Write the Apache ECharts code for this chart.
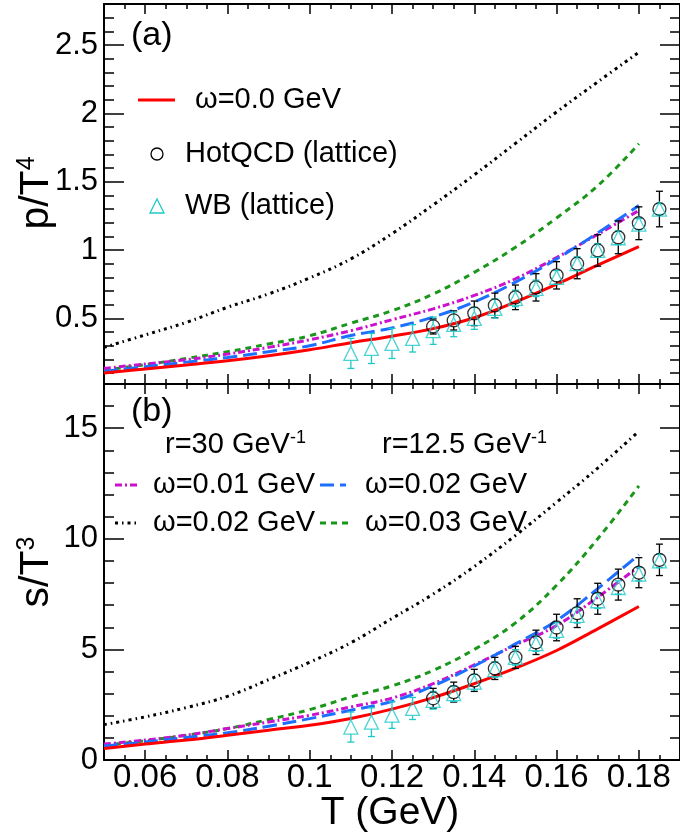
<!DOCTYPE html>
<html>
<head>
<meta charset="utf-8">
<script src="https://cdn.jsdelivr.net/npm/echarts@6/dist/echarts.min.js"></script>
<style>
  html, body { margin: 0; padding: 0; background: #fff; }
  #chart { width: 680px; height: 838px; }
</style>
</head>
<body>
<div id="chart"></div>
<script>
var FONT = 'Liberation Sans';

// temperature grid of the model curves (GeV)
var tCurve = [0.05, 0.06, 0.07, 0.08, 0.09, 0.10, 0.11, 0.12, 0.13, 0.14, 0.15, 0.16, 0.17, 0.18];

// (a) p/T^4
var pRed     = [0.100, 0.130, 0.159, 0.190, 0.227, 0.271, 0.322, 0.370, 0.425, 0.505, 0.620, 0.750, 0.890, 1.025];
var pMagenta = [0.134, 0.166, 0.198, 0.239, 0.288, 0.344, 0.410, 0.490, 0.570, 0.668, 0.790, 0.945, 1.115, 1.289];
var pBlue    = [0.112, 0.146, 0.180, 0.214, 0.256, 0.300, 0.375, 0.430, 0.510, 0.620, 0.765, 0.935, 1.125, 1.325];
var pBlack   = [0.288, 0.379, 0.471, 0.581, 0.679, 0.796, 0.935, 1.120, 1.330, 1.550, 1.780, 2.010, 2.230, 2.447];
var pGreen   = [0.122, 0.161, 0.207, 0.256, 0.313, 0.373, 0.465, 0.556, 0.678, 0.837, 1.020, 1.235, 1.470, 1.777];

// (b) s/T^3
var sRed     = [0.52, 0.72, 0.90, 1.12, 1.35, 1.57, 1.88, 2.30, 2.82, 3.45, 4.15, 4.95, 5.93, 6.94];
var sMagenta = [0.72, 0.90, 1.12, 1.42, 1.72, 2.02, 2.40, 2.80, 3.45, 4.30, 5.20, 6.08, 7.36, 8.75];
var sBlue    = [0.63, 0.81, 1.02, 1.23, 1.53, 1.87, 2.25, 2.65, 3.35, 4.25, 5.25, 6.30, 7.75, 9.28];
var sBlack   = [1.60, 1.95, 2.37, 2.88, 3.63, 4.42, 5.30, 6.40, 7.50, 8.75, 10.15, 11.65, 13.20, 14.86];
var sGreen   = [0.67, 0.87, 1.12, 1.42, 1.83, 2.28, 2.85, 3.35, 4.05, 5.00, 6.20, 7.90, 10.00, 12.39];

// lattice points
var tHot = [0.13, 0.135, 0.14, 0.145, 0.15, 0.155, 0.16, 0.165, 0.17, 0.175, 0.18, 0.185];
var pHot    = [0.441, 0.485, 0.537, 0.595, 0.654, 0.727, 0.815, 0.900, 0.997, 1.093, 1.196, 1.300];
var pHotErr = [0.055, 0.070, 0.090, 0.090, 0.090, 0.100, 0.100, 0.110, 0.115, 0.120, 0.120, 0.130];
var sHot    = [2.79, 3.07, 3.60, 4.14, 4.64, 5.32, 5.99, 6.64, 7.29, 7.93, 8.47, 9.05];
var sHotErr = [0.45, 0.45, 0.50, 0.50, 0.50, 0.55, 0.60, 0.65, 0.70, 0.70, 0.68, 0.71];

var tWB = [0.11, 0.115, 0.12, 0.125, 0.13, 0.135, 0.14, 0.145, 0.15, 0.155, 0.16, 0.165, 0.17, 0.175, 0.18, 0.185];
var pWB    = [0.244, 0.280, 0.317, 0.354, 0.410, 0.456, 0.500, 0.573, 0.646, 0.720, 0.800, 0.900, 0.997, 1.090, 1.190, 1.300];
var pWBErr = [0.11, 0.11, 0.11, 0.10, 0.10, 0.09, 0.08, 0.07, 0.06, 0.06, 0.05, 0.05, 0.05, 0.05, 0.04, 0.04];
var sWB    = [1.49, 1.71, 2.03, 2.33, 2.70, 3.00, 3.52, 4.09, 4.64, 5.26, 5.86, 6.54, 7.20, 7.80, 8.40, 9.00];
var sWBErr = [0.68, 0.65, 0.60, 0.50, 0.40, 0.35, 0.35, 0.35, 0.35, 0.35, 0.35, 0.35, 0.35, 0.30, 0.30, 0.30];

// tick labels
var xMajor = [0.06, 0.08, 0.1, 0.12, 0.14, 0.16, 0.18];
var pMajor = [0.5, 1, 1.5, 2, 2.5];
var sMajor = [0, 5, 10, 15];

function minorTicks(step, from, to, every) {
    var out = [];
    for (var k = from; k <= to; k++) {
        if (k % every !== 0) out.push(+(k * step).toFixed(4));
    }
    return out;
}
var xMinor = minorTicks(0.005, 10, 38, 4);
var pMinor = minorTicks(0.1, 1, 27, 5);
var sMinor = minorTicks(1, 1, 16, 5);

var RED = '#ff0000', MAGENTA = '#cc11cc', BLUE = '#1f6fff', GREEN = '#1a961a', BLACK = '#000000', CYAN = '#1fc8c8';
var LEG = 29;

var lineCol = { color: '#000', width: 1.5 };

function makeX(grid, labels) {
    var axes = [];
    ['bottom', 'top'].forEach(function (pos) {
        axes.push({
            type: 'value', gridIndex: grid, position: pos, min: 0.05, max: 0.19,
            splitLine: { show: false },
            axisLine: { show: true, onZero: false, lineStyle: { color: '#000', width: 2 } },
            axisTick: { show: true, inside: true, length: 10, customValues: xMajor, lineStyle: lineCol },
            axisLabel: (labels && pos === 'bottom') ? {
                show: true, customValues: xMajor, margin: 1, fontSize: 33, fontFamily: FONT, color: '#000'
            } : { show: false }
        });
        axes.push({
            type: 'value', gridIndex: grid, position: pos, min: 0.05, max: 0.19,
            splitLine: { show: false },
            axisLine: { show: false, onZero: false },
            axisTick: { show: true, inside: true, length: 5, customValues: xMinor, lineStyle: lineCol },
            axisLabel: { show: false }
        });
    });
    return axes;
}

function makeY(grid, min, max, major, minor) {
    var axes = [];
    ['left', 'right'].forEach(function (pos) {
        axes.push({
            type: 'value', gridIndex: grid, position: pos, min: min, max: max,
            splitLine: { show: false },
            axisLine: { show: true, onZero: false, lineStyle: { color: '#000', width: 2 } },
            axisTick: { show: true, inside: true, length: 20, customValues: major, lineStyle: lineCol },
            axisLabel: pos === 'left' ? {
                show: true, customValues: major, margin: 6, fontSize: 31, fontFamily: FONT, color: '#000'
            } : { show: false }
        });
        axes.push({
            type: 'value', gridIndex: grid, position: pos, min: min, max: max,
            splitLine: { show: false },
            axisLine: { show: false, onZero: false },
            axisTick: { show: true, inside: true, length: 10, customValues: minor, lineStyle: lineCol },
            axisLabel: { show: false }
        });
    });
    return axes;
}

function pairs(xs, ys) {
    return xs.map(function (x, i) { return [x, ys[i]]; });
}
function triples(xs, ys, es) {
    return xs.map(function (x, i) { return [x, ys[i], es[i]]; });
}

function curve(panel, values, color, dash, width) {
    return {
        type: 'line', xAxisIndex: panel * 4, yAxisIndex: panel * 4,
        data: pairs(tCurve, values), smooth: 0.4, symbol: 'none', silent: true,
        lineStyle: { color: color, width: width || 3, type: dash }, z: 3
    };
}

function errorBars(panel, data, color, gap) {
    return {
        type: 'custom', xAxisIndex: panel * 4, yAxisIndex: panel * 4, data: data, z: 4, silent: true,
        encode: { x: 0, y: 1 },
        renderItem: function (params, api) {
            var x = api.value(0), y = api.value(1), e = api.value(2);
            var top = api.coord([x, y + e]);
            var mid = api.coord([x, y]);
            var bot = api.coord([x, y - e]);
            var st = { stroke: color, lineWidth: 1.3 };
            var kids = [
                { type: 'line', shape: { x1: top[0] - 3.5, y1: top[1], x2: top[0] + 3.5, y2: top[1] }, style: st },
                { type: 'line', shape: { x1: bot[0] - 3.5, y1: bot[1], x2: bot[0] + 3.5, y2: bot[1] }, style: st }
            ];
            if (mid[1] - top[1] > gap) {
                kids.push({ type: 'line', shape: { x1: top[0], y1: top[1], x2: mid[0], y2: mid[1] - gap }, style: st });
                kids.push({ type: 'line', shape: { x1: bot[0], y1: mid[1] + gap, x2: bot[0], y2: bot[1] }, style: st });
            }
            return { type: 'group', children: kids };
        }
    };
}

function points(panel, data, symbol, color, size) {
    return {
        type: 'scatter', xAxisIndex: panel * 4, yAxisIndex: panel * 4, data: data,
        symbol: symbol, symbolSize: size, silent: true, z: 5,
        itemStyle: { color: 'rgba(0,0,0,0)', borderColor: color, borderWidth: 1.3 }
    };
}

var series = [];
[[pRed, pMagenta, pBlue, pBlack, pGreen], [sRed, sMagenta, sBlue, sBlack, sGreen]].forEach(function (set, panel) {
    series.push(curve(panel, set[3], BLACK, [3, 4, 1.5, 4], 3));
    series.push(curve(panel, set[4], GREEN, [6, 5]));
    series.push(curve(panel, set[1], MAGENTA, [7, 3, 2, 3]));
    series.push(curve(panel, set[2], BLUE, [14, 6]));
    series.push(curve(panel, set[0], RED, 'solid'));
});
series.push(errorBars(0, triples(tHot, pHot, pHotErr), '#000', 6));
series.push(errorBars(1, triples(tHot, sHot, sHotErr), '#000', 6));
series.push(points(0, pairs(tHot, pHot), 'circle', '#000', 13));
series.push(points(1, pairs(tHot, sHot), 'circle', '#000', 13));
series.push(errorBars(0, triples(tWB, pWB, pWBErr), CYAN, 7));
series.push(errorBars(1, triples(tWB, sWB, sWBErr), CYAN, 7));
series.push(points(0, pairs(tWB, pWB), 'triangle', CYAN, 14));
series.push(points(1, pairs(tWB, sWB), 'triangle', CYAN, 14));

function label(x, y, text, size, extra) {
    var st = { text: text, x: 0, y: 0, fontSize: size, fontFamily: FONT, fill: '#000', verticalAlign: 'middle', align: 'left' };
    for (var k in extra) st[k] = extra[k];
    return { type: 'text', x: x, y: y, style: st, z: 20 };
}
function sample(x1, x2, y, color, dash, width) {
    return { type: 'line', shape: { x1: x1, y1: y, x2: x2, y2: y }, style: { stroke: color, lineWidth: width || 3, lineDash: dash }, z: 20 };
}
function supRich(base, sup) {
    return {
        b: { fontSize: base, fontFamily: FONT, fill: '#000', lineHeight: base * 1.1 },
        s: { fontSize: sup, fontFamily: FONT, fill: '#000', lineHeight: sup * 1.1, verticalAlign: 'top' }
    };
}

var graphics = [
    label(131, 36, '(a)', 34),
    label(131, 412, '(b)', 34),
    { type: 'text', x: 37, y: 193, rotation: Math.PI / 2, z: 20,
      style: { text: '{b|p/T}{s|4}', rich: supRich(41, 25), align: 'center', verticalAlign: 'middle' } },
    { type: 'text', x: 37, y: 572, rotation: Math.PI / 2, z: 20,
      style: { text: '{b|s/T}{s|3}', rich: supRich(41, 25), align: 'center', verticalAlign: 'middle' } },
    label(390, 813, 'T (GeV)', 39, { align: 'center' }),

    sample(138, 175, 100, RED, null),
    label(195, 100, 'ω=0.0 GeV', LEG),
    { type: 'circle', shape: { cx: 157, cy: 154, r: 6 }, style: { fill: 'none', stroke: '#000', lineWidth: 1.3 }, z: 20 },
    label(185, 154, 'HotQCD (lattice)', LEG),
    { type: 'polygon', shape: { points: [[157, 199], [150, 213], [164, 213]] }, style: { fill: 'none', stroke: CYAN, lineWidth: 1.3 }, z: 20 },
    label(185, 206, 'WB (lattice)', LEG),

    { type: 'text', x: 165, y: 445, z: 20,
      style: { text: '{b|r=30 GeV}{s|-1}', rich: supRich(LEG, 18), verticalAlign: 'middle' } },
    { type: 'text', x: 382, y: 445, z: 20,
      style: { text: '{b|r=12.5 GeV}{s|-1}', rich: supRich(LEG, 18), verticalAlign: 'middle' } },
    sample(115, 138, 485, MAGENTA, [7, 3, 2, 3]),
    label(153, 485, 'ω=0.01 GeV', LEG),
    sample(320, 346, 485, BLUE, [14, 6]),
    label(365, 485, 'ω=0.02 GeV', LEG),
    sample(115, 138, 523, BLACK, [3, 4, 1.5, 4], 3),
    label(153, 523, 'ω=0.02 GeV', LEG),
    sample(320, 348, 523, GREEN, [6, 5]),
    label(365, 523, 'ω=0.03 GeV', LEG)
];

option = {
    animation: false,
    backgroundColor: '#ffffff',
    grid: [
        { left: 104, top: 4, width: 584, height: 380 },
        { left: 104, top: 384, width: 584, height: 376 }
    ],
    xAxis: makeX(0, false).concat(makeX(1, true)),
    yAxis: makeY(0, 0.02, 2.8, pMajor, pMinor).concat(makeY(1, 0, 17, sMajor, sMinor)),
    series: series,
    graphic: graphics
};

var myChart = echarts.init(document.getElementById('chart'));
myChart.setOption(option);
</script>
</body>
</html>
